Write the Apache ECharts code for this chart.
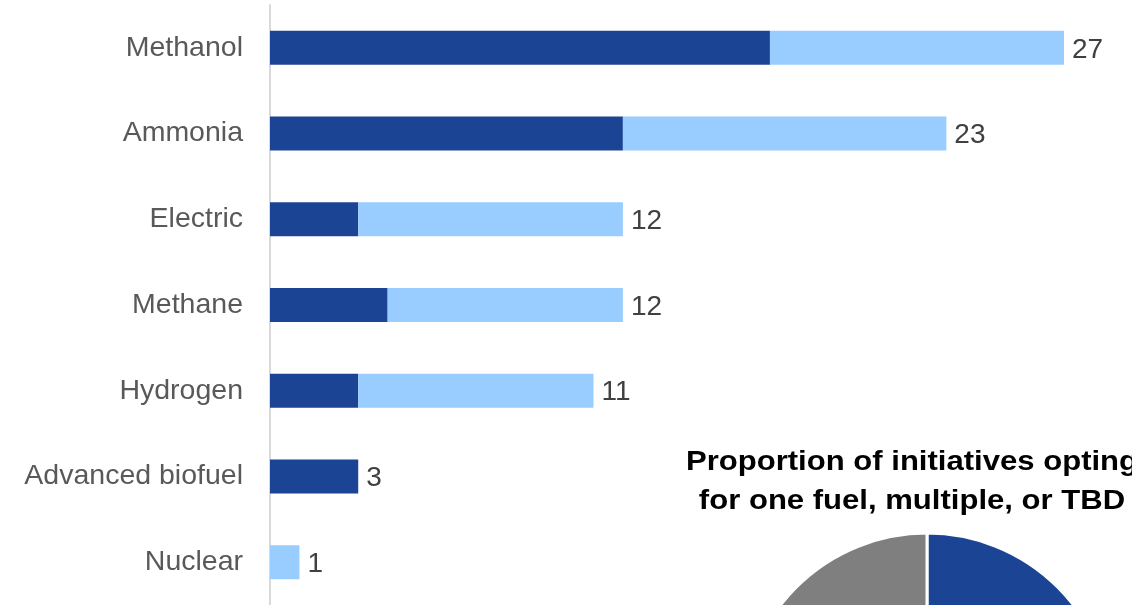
<!DOCTYPE html>
<html>
<head>
<meta charset="utf-8">
<script src="https://cdn.jsdelivr.net/npm/echarts@6/dist/echarts.min.js"></script>
<style>
  html, body { margin: 0; padding: 0; background: #ffffff; }
  #chart { width: 1132px; height: 605px; }
</style>
</head>
<body>
<div id="chart"></div>
<script>
// Fuel types named by initiatives
const categories = ['Methanol', 'Ammonia', 'Electric', 'Methane', 'Hydrogen', 'Advanced biofuel', 'Nuclear'];
// Initiatives committed to a single fuel
const singleFuel = [17, 12, 3, 4, 3, 3, 0];
// Initiatives considering this fuel among several options
const multiFuel = [10, 11, 9, 8, 8, 0, 1];
// Totals written at the end of each bar
const totals = [27, 23, 12, 12, 11, 3, 1];

// Share of initiatives: one fuel, multiple fuels, to be decided
const pieNames = ['One fuel', 'Multiple', 'TBD'];
const pieValues = [50, 25, 25];

// Heading above the pie, one entry per line
const pieTitleLines = ['Proportion of initiatives opting', 'for one fuel, multiple, or TBD'];

const FONT = '"Liberation Sans", Arial, sans-serif';
const DARK = '#1b4594';
const LIGHT = '#99ccff';
const GREY = '#7f7f7f';

const chart = echarts.init(document.getElementById('chart'), null, { renderer: 'canvas' });

// Slightly widened bold heading lines
const titleY = [462, 501];
const titleGraphics = pieTitleLines.map((line, i) => ({
  type: 'text',
  x: 912,
  y: titleY[i],
  scaleX: 1.09,
  style: {
    text: line,
    fill: '#000000',
    font: 'bold 28.5px ' + FONT,
    textAlign: 'center',
    textVerticalAlign: 'middle'
  },
  z: 10
}));

chart.setOption({
  animation: false,
  backgroundColor: '#ffffff',
  textStyle: { fontFamily: FONT },
  graphic: titleGraphics,
  grid: { left: 270, top: 5, width: 794, height: 602, containLabel: false },
  xAxis: {
    type: 'value',
    min: 0,
    max: 27,
    show: false
  },
  yAxis: {
    type: 'category',
    data: categories,
    inverse: true,
    axisLine: { show: true, lineStyle: { color: '#d9d9d9', width: 2 } },
    axisTick: { show: false },
    axisLabel: {
      margin: 27,
      fontSize: 28.5,
      color: '#595959',
      fontFamily: FONT,
      padding: [4, 0, 0, 0]
    },
    splitLine: { show: false }
  },
  series: [
    {
      name: 'Single fuel',
      type: 'bar',
      stack: 'fuel',
      barWidth: 34,
      itemStyle: { color: DARK },
      data: singleFuel
    },
    {
      name: 'Multiple fuels',
      type: 'bar',
      stack: 'fuel',
      barWidth: 34,
      itemStyle: { color: LIGHT },
      data: multiFuel
    },
    {
      name: 'Total',
      type: 'bar',
      stack: 'fuel',
      barWidth: 34,
      itemStyle: { color: 'transparent' },
      data: totals.map(() => 0),
      label: {
        show: true,
        position: 'right',
        distance: 8,
        offset: [0, 2],
        fontSize: 28,
        color: '#404040',
        fontFamily: FONT,
        formatter: (p) => String(totals[p.dataIndex])
      }
    },
    {
      name: 'Fuel choice',
      type: 'pie',
      center: [927, 718],
      radius: 185,
      startAngle: 90,
      clockwise: true,
      label: { show: false },
      labelLine: { show: false },
      itemStyle: { borderColor: '#ffffff', borderWidth: 3 },
      color: [DARK, LIGHT, GREY],
      data: pieNames.map((n, i) => ({ name: n, value: pieValues[i] }))
    }
  ]
});
</script>
</body>
</html>
